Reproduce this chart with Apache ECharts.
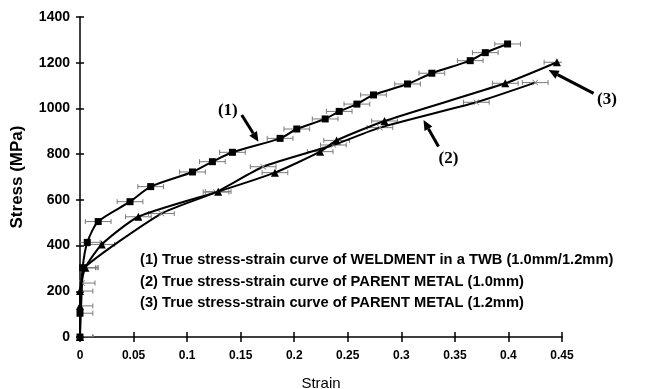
<!DOCTYPE html>
<html><head><meta charset="utf-8">
<script src="https://cdn.jsdelivr.net/npm/echarts@6/dist/echarts.min.js"></script>
<style>html,body{margin:0;padding:0;background:#fff}#c{width:646px;height:389px}</style>
</head><body><div id="c"></div>
<script>
// Curve (1): WELDMENT in a TWB
const strain1 = [0, 0, 0.0025, 0.0068, 0.017, 0.0467, 0.066, 0.105, 0.1236, 0.1423, 0.1868, 0.2024, 0.2289, 0.242, 0.2585, 0.274, 0.3058, 0.3285, 0.3643, 0.3784, 0.3992];
const stress1 = [0, 104, 303, 414, 505, 592, 658, 722, 767, 808, 869, 910, 954, 987, 1019, 1059, 1107, 1154, 1209, 1244, 1282];
// Curve (2): PARENT METAL 1.0mm
const strain2 = [0, 0.002, 0.004, 0.076, 0.127, 0.171, 0.2366, 0.28, 0.37, 0.425];
const stress2 = [0, 236, 303, 540, 634, 745, 840, 916, 1027, 1113];
// Curve (3): PARENT METAL 1.2mm
const strain3 = [0, 0, 0, 0.005, 0.0203, 0.0545, 0.129, 0.182, 0.2242, 0.2396, 0.2843, 0.397, 0.4453];
const stress3 = [0, 136, 201, 303, 405, 526, 636, 719, 811, 860, 945, 1110, 1202];
// horizontal error (strain)
const strainError = 0.012;

const xTickLabels = ['0', '0.05', '0.1', '0.15', '0.2', '0.25', '0.3', '0.35', '0.4', '0.45'];
const yTickLabels = ['0', '200', '400', '600', '800', '1000', '1200', '1400'];

const legendLines = [
  '(1) True stress-strain curve of WELDMENT in a TWB (1.0mm/1.2mm)',
  '(2) True stress-strain curve of PARENT METAL (1.0mm)',
  '(3) True stress-strain curve of PARENT METAL (1.2mm)'
];
const annLabels = ['(1)', '(2)', '(3)'];
const annTextAt = [[0.138, 992], [0.344, 782], [0.492, 1037]];
const annTail = [[0.151, 971], [0.3347, 833], [0.4795, 1066]];
const annTip = [[0.1666, 854], [0.3207, 949], [0.4375, 1168]];

const pts = (xs, ys) => xs.map((x, i) => [x, ys[i]]);
const errPts = (xs, ys) => xs.map((x, i) => [x, ys[i], strainError]);

function renderErr(params, api) {
  const x = api.value(0), y = api.value(1), e = api.value(2);
  const p1 = api.coord([x - e, y]), p2 = api.coord([x + e, y]);
  const cap = 2.5;
  const st = { stroke: '#7a7a7a', lineWidth: 1 };
  return {
    type: 'group', children: [
      { type: 'line', shape: { x1: p1[0], y1: p1[1], x2: p2[0], y2: p2[1] }, style: st },
      { type: 'line', shape: { x1: p1[0], y1: p1[1] - cap, x2: p1[0], y2: p1[1] + cap }, style: st },
      { type: 'line', shape: { x1: p2[0], y1: p2[1] - cap, x2: p2[0], y2: p2[1] + cap }, style: st }
    ]
  };
}

const xSymbol = 'path://M0,1L1,0L5,4L9,0L10,1L6,5L10,9L9,10L5,6L1,10L0,9L4,5Z';

const chart = echarts.init(document.getElementById('c'), null, { renderer: 'canvas' });
const axisLineStyle = { color: '#000', width: 1.5 };
const option = {
  animation: false,
  backgroundColor: '#fff',
  grid: { left: 80, right: 84, top: 17, bottom: 52, containLabel: false, outerBoundsMode: 'none' },
  xAxis: [{
    type: 'value', min: 0, max: 0.45, interval: 0.05,
    axisLine: { show: true, lineStyle: axisLineStyle },
    axisTick: { show: true, length: 5, lineStyle: { color: '#000', width: 1.5 } },
    axisLabel: { color: '#000', fontFamily: 'Liberation Sans', fontWeight: 'bold', fontSize: 12, margin: 13,
      formatter: (v) => xTickLabels[Math.round(v / 0.05)] },
    splitLine: { show: false },
    name: 'Strain', nameLocation: 'middle', nameGap: 39,
    nameTextStyle: { color: '#000', fontFamily: 'Liberation Sans', fontSize: 15 }
  }, {
    type: 'value', min: 0, max: 0.45, interval: 0.05, position: 'bottom',
    axisLine: { show: false },
    axisTick: { show: true, inside: true, length: 5, lineStyle: { color: '#000', width: 1.5 } },
    axisLabel: { show: false }, splitLine: { show: false }
  }],
  yAxis: [{
    type: 'value', min: 0, max: 1400, interval: 200,
    axisLine: { show: true, lineStyle: axisLineStyle },
    axisTick: { show: true, length: 4, lineStyle: { color: '#000', width: 1.5 } },
    axisLabel: { color: '#000', fontFamily: 'Liberation Sans', fontWeight: 'bold', fontSize: 14, margin: 10,
      formatter: (v) => yTickLabels[Math.round(v / 200)] },
    splitLine: { show: false },
    name: 'Stress (MPa)', nameLocation: 'middle', nameGap: 54, nameRotate: 90,
    nameTextStyle: { color: '#000', fontFamily: 'Liberation Sans', fontWeight: 'bold', fontSize: 17 }
  }, {
    type: 'value', min: 0, max: 1400, interval: 200, position: 'left',
    axisLine: { show: false },
    axisTick: { show: true, inside: true, length: 4, lineStyle: { color: '#000', width: 1.5 } },
    axisLabel: { show: false }, splitLine: { show: false }
  }],
  series: [
    { type: 'custom', renderItem: renderErr, data: errPts(strain1, stress1), clip: true, z: 1, silent: true },
    { type: 'custom', renderItem: renderErr, data: errPts(strain2, stress2), clip: true, z: 1, silent: true },
    { type: 'custom', renderItem: renderErr, data: errPts(strain3, stress3), clip: true, z: 1, silent: true },
    { type: 'line', name: '(2)', data: pts(strain2, stress2), smooth: 0.2, symbol: xSymbol, symbolSize: 6,
      itemStyle: { color: '#888' }, lineStyle: { color: '#000', width: 2 }, z: 3 },
    { type: 'line', name: '(3)', data: pts(strain3, stress3), smooth: 0.2, symbol: 'triangle', symbolSize: 8,
      itemStyle: { color: '#000' }, lineStyle: { color: '#000', width: 2 }, z: 4 },
    { type: 'line', name: '(1)', data: pts(strain1, stress1), smooth: 0.25, symbol: 'rect', symbolSize: 7,
      itemStyle: { color: '#000' }, lineStyle: { color: '#000', width: 2 }, z: 5 }
  ]
};
chart.setOption(option);

function toPx(p) { return chart.convertToPixel({ xAxisIndex: 0, yAxisIndex: 0 }, p); }
const g = [];
annLabels.forEach((lab, i) => {
  const t = toPx(annTextAt[i]), a = toPx(annTail[i]), b = toPx(annTip[i]);
  const dx = b[0] - a[0], dy = b[1] - a[1];
  const L = Math.hypot(dx, dy), ux = dx / L, uy = dy / L;
  const hl = 10, hw = 4.5;
  const base = [b[0] - ux * hl, b[1] - uy * hl];
  g.push({ type: 'line', shape: { x1: a[0], y1: a[1], x2: base[0], y2: base[1] }, style: { stroke: '#000', lineWidth: 3 } });
  g.push({ type: 'polygon', shape: { points: [b, [base[0] - uy * hw, base[1] + ux * hw], [base[0] + uy * hw, base[1] - ux * hw]] }, style: { fill: '#000' } });
  g.push({ type: 'text', x: t[0], y: t[1], style: { text: lab, fill: '#000', font: 'bold 17px "Liberation Serif"', align: 'center', verticalAlign: 'middle' } });
});
legendLines.forEach((s, i) => {
  g.push({ type: 'text', x: 140, y: 260 + i * 21.7, style: { text: s, fill: '#000', font: 'bold 14.7px "Liberation Sans"', align: 'left', verticalAlign: 'middle' } });
});
chart.setOption({ graphic: g });
</script>
</body></html>
